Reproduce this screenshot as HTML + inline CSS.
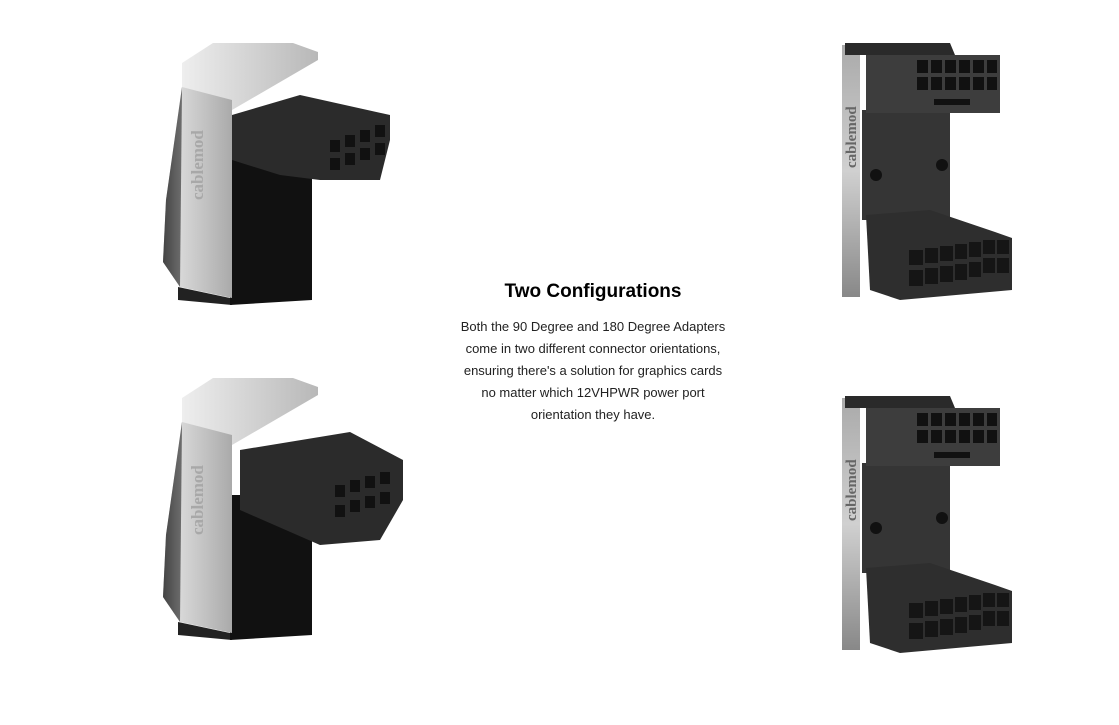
<!DOCTYPE html>
<html><head><meta charset="utf-8"><style>
body{margin:0;background:#fff;width:1119px;height:725px;overflow:hidden;position:relative;font-family:"Liberation Sans",sans-serif}
svg{position:absolute;left:0;top:0}
.t{position:absolute;left:393px;width:400px;text-align:center;color:#111}
h2{margin:0;font-size:19px;font-weight:bold;color:#000}
p{margin:0;font-size:13px;line-height:22px;color:#222}
</style></head><body>
<svg width="1119" height="725" viewBox="0 0 1119 725">
<defs>
<linearGradient id="sv" x1="0" x2="1"><stop offset="0" stop-color="#777"/><stop offset=".25" stop-color="#d8d8d8"/><stop offset="1" stop-color="#aaa"/></linearGradient>
<linearGradient id="tp" x1="0" x2="1"><stop offset="0" stop-color="#eee"/><stop offset="1" stop-color="#b8b8b8"/></linearGradient>
<linearGradient id="st" x1="0" y1="0" x2="0" y2="1"><stop offset="0" stop-color="#aaa"/><stop offset=".5" stop-color="#d0d0d0"/><stop offset="1" stop-color="#888"/></linearGradient>
<g id="L">
<polygon points="178,287 230,298 232,305 178,300" fill="#222"/>
<polygon points="230,160 312,160 312,300 230,305" fill="#111"/>
<polygon points="182,63 213,43 293,43 318,52 318,60 232,110 182,87" fill="url(#tp)"/>
<polygon points="182,87 232,100 232,298 180,287 163,262 166,200" fill="url(#sv)"/>
<polygon points="166,200 182,87 180,287 163,262" fill="#222" opacity=".6"/>
<text x="0" y="0" transform="translate(203,200) rotate(-90)" font-family="Liberation Serif,serif" font-weight="bold" font-size="17" fill="#a8a8a8">cablemod</text>
</g>
<g id="R">
<rect x="842" y="45" width="18" height="252" fill="url(#st)"/>
<polygon points="845,43 950,43 955,55 845,55" fill="#2a2a2a"/>
<rect x="862" y="110" width="88" height="110" fill="#353535"/>
<rect x="866" y="55" width="134" height="58" fill="#3d3d3d"/>
<g fill="#111">
<rect x="917" y="60" width="11" height="13"/><rect x="931" y="60" width="11" height="13"/><rect x="945" y="60" width="11" height="13"/><rect x="959" y="60" width="11" height="13"/><rect x="973" y="60" width="11" height="13"/><rect x="987" y="60" width="10" height="13"/>
<rect x="917" y="77" width="11" height="13"/><rect x="931" y="77" width="11" height="13"/><rect x="945" y="77" width="11" height="13"/><rect x="959" y="77" width="11" height="13"/><rect x="973" y="77" width="11" height="13"/><rect x="987" y="77" width="10" height="13"/>
<rect x="934" y="99" width="36" height="6"/>
<circle cx="876" cy="175" r="6"/><circle cx="942" cy="165" r="6"/>
</g>
<polygon points="866,215 930,210 995,232 1012,238 1012,290 900,300 870,290" fill="#2e2e2e"/>
<g fill="#151515">
<rect x="909" y="250" width="14" height="15"/><rect x="925" y="248" width="13" height="15"/><rect x="940" y="246" width="13" height="15"/><rect x="955" y="244" width="12" height="15"/><rect x="969" y="242" width="12" height="15"/><rect x="983" y="240" width="12" height="14"/><rect x="997" y="240" width="12" height="14"/>
<rect x="909" y="270" width="14" height="16"/><rect x="925" y="268" width="13" height="16"/><rect x="940" y="266" width="13" height="16"/><rect x="955" y="264" width="12" height="16"/><rect x="969" y="262" width="12" height="15"/><rect x="983" y="258" width="12" height="15"/><rect x="997" y="258" width="12" height="15"/>
</g>
<text transform="translate(856,168) rotate(-90)" font-family="Liberation Serif,serif" font-weight="bold" font-size="15" fill="#666">cablemod</text>
</g>
</defs>
<use href="#L"/>
<polygon points="232,115 300,95 390,115 390,140 380,180 320,180 280,175 232,160" fill="#2b2b2b"/>
<g fill="#111"><rect x="330" y="140" width="10" height="12"/><rect x="345" y="135" width="10" height="12"/><rect x="360" y="130" width="10" height="12"/><rect x="375" y="125" width="10" height="12"/><rect x="330" y="158" width="10" height="12"/><rect x="345" y="153" width="10" height="12"/><rect x="360" y="148" width="10" height="12"/><rect x="375" y="143" width="10" height="12"/></g>
<use href="#L" transform="translate(0,335)"/>
<polygon points="240,450 350,432 403,460 403,500 380,540 320,545 240,510" fill="#2b2b2b"/>
<g fill="#111"><rect x="335" y="485" width="10" height="12"/><rect x="350" y="480" width="10" height="12"/><rect x="365" y="476" width="10" height="12"/><rect x="380" y="472" width="10" height="12"/><rect x="335" y="505" width="10" height="12"/><rect x="350" y="500" width="10" height="12"/><rect x="365" y="496" width="10" height="12"/><rect x="380" y="492" width="10" height="12"/></g>
<use href="#R"/>
<use href="#R" transform="translate(0,353)"/>
</svg>
<div class="t" style="top:281px"><h2>Two Configurations</h2></div>
<div class="t" style="top:316px"><p>Both the 90 Degree and 180 Degree Adapters<br>come in two different connector orientations,<br>ensuring there's a solution for graphics cards<br>no matter which 12VHPWR power port<br>orientation they have.</p></div>
</body></html>
